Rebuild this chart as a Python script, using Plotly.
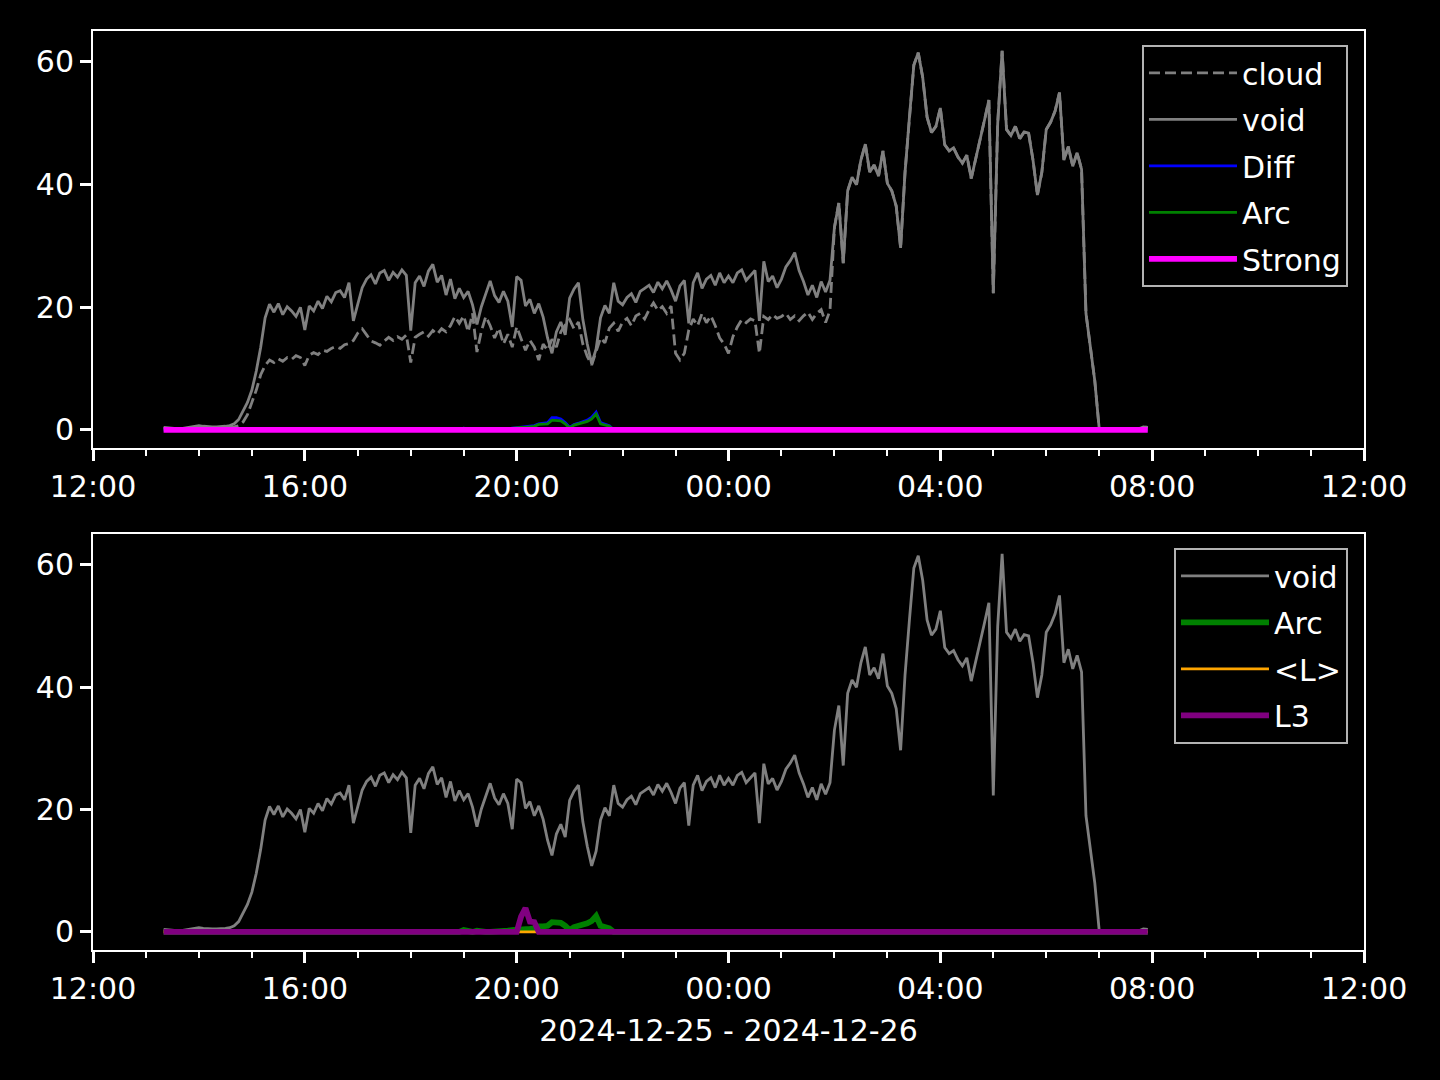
import pandas as pd
import plotly.graph_objects as go

# ---- data (5-minute samples starting 2024-12-25 13:20) ----
start_time = "2024-12-25 13:20"
step = "5min"

void = (
    [0.4, 0.3, 0.3, 0.2, 0.2, 0.3, 0.4, 0.5] +                                   # 13:20-13:55
    [0.7, 0.6, 0.5, 0.5, 0.5, 0.5, 0.6, 0.7, 1.0, 1.7, 3.0, 4.5] +               # 14
    [6.5, 9.6, 13.5, 18.3, 20.5, 19.2, 20.6, 18.8, 20.1, 19.4, 18.5, 20.0] +     # 15
    [16.3, 20.2, 19.4, 21.0, 19.8, 21.8, 20.9, 22.4, 22.7, 21.6, 24.0, 17.8] +   # 16
    [20.5, 23.2, 24.6, 25.3, 23.8, 25.6, 26.0, 24.4, 25.7, 24.9, 26.1, 25.2] +   # 17
    [16.2, 24.0, 25.1, 23.4, 25.9, 27.0, 24.1, 25.2, 22.0, 24.6, 21.4, 23.1] +   # 18
    [21.6, 22.6, 20.4, 17.2, 20.1, 22.2, 24.3, 21.9, 20.8, 22.6, 21.0, 16.8] +   # 19
    [25.0, 24.4, 20.2, 21.3, 19.0, 20.6, 18.4, 15.0, 12.5, 16.0, 17.6, 15.5] +   # 20
    [21.5, 23.0, 24.0, 18.0, 14.0, 10.8, 13.2, 18.3, 20.3, 19.0, 24.0, 21.0] +   # 21
    [20.4, 21.6, 22.2, 20.8, 22.6, 23.1, 23.6, 22.4, 24.1, 23.0, 24.3, 22.8] +   # 22
    [21.0, 23.5, 24.4, 17.4, 24.0, 25.6, 23.1, 24.6, 25.2, 23.6, 25.6, 24.0] +   # 23
    [25.1, 24.0, 25.6, 26.1, 24.4, 25.2, 26.0, 17.8, 27.5, 24.2, 25.1, 23.2] +   # 00
    [24.6, 26.6, 27.6, 28.9, 26.0, 24.2, 22.0, 23.6, 21.6, 24.2, 22.5, 24.4] +   # 01
    [33.0, 37.0, 27.2, 39.0, 41.2, 40.0, 44.0, 46.6, 42.0, 43.2, 41.4, 45.5] +   # 02
    [40.2, 39.0, 36.5, 29.7, 42.0, 51.0, 59.5, 61.5, 57.5, 51.0, 48.5, 49.5] +   # 03
    [52.5, 46.5, 45.5, 46.0, 44.5, 43.5, 44.8, 41.0, 44.0, 47.5, 50.5, 53.8] +   # 04
    [22.3, 50.0, 61.8, 49.0, 48.0, 49.5, 47.5, 48.6, 48.4, 44.0, 38.3, 42.0] +   # 05
    [49.0, 50.2, 52.0, 55.0, 44.0, 46.2, 43.0, 45.2, 42.5, 19.0, 13.5, 8.0] +    # 06
    [0.2, 0.1, 0.1, 0.1, 0.1, 0.1, 0.1, 0.1, 0.2, 0.2, 0.5, 0.4]                 # 07
)

cloud = (
    [0.2, 0.2, 0.1, 0.1, 0.1, 0.2, 0.2, 0.3] +
    [0.4, 0.4, 0.3, 0.3, 0.3, 0.3, 0.3, 0.4, 0.5, 0.7, 1.3, 2.5] +
    [4.5, 6.5, 9.0, 10.5, 11.4, 11.0, 11.6, 11.2, 11.8, 11.5, 12.1, 11.8] +
    [10.5, 12.2, 12.6, 12.3, 13.0, 12.8, 13.3, 13.6, 13.3, 13.9, 14.1, 14.6] +
    [15.8, 16.5, 15.5, 14.5, 14.2, 13.8, 14.5, 15.1, 14.6, 15.2, 14.8, 15.5] +
    [11.0, 15.1, 15.6, 16.0, 15.3, 16.2, 15.6, 16.5, 16.0, 17.0, 18.5, 17.4] +
    [18.6, 16.0, 19.0, 12.7, 16.1, 18.5, 17.0, 15.0, 16.6, 14.0, 15.6, 13.5] +
    [16.8, 15.0, 13.0, 14.6, 13.5, 11.4, 14.0, 13.0, 14.8, 13.5, 16.0, 17.1] +
    [18.0, 16.5, 17.6, 14.0, 12.0, 10.6, 13.0, 15.0, 14.2, 16.6, 17.4, 16.1] +
    [17.6, 18.2, 17.0, 18.6, 19.0, 18.1, 19.6, 20.7, 19.5, 20.1, 19.0, 20.2] +
    [12.5, 11.4, 12.5, 16.3, 18.1, 17.0, 19.0, 17.5, 18.6, 17.0, 15.0, 14.0] +
    [12.5, 15.2, 16.8, 18.0, 17.5, 18.1, 17.8, 12.5, 18.5, 18.0, 18.8, 18.2] +
    [18.5, 19.0, 18.0, 18.6, 17.8, 18.6, 19.2, 18.0, 19.0, 19.6, 17.5, 19.5] +
    [33.0, 37.0, 27.2, 39.0, 41.2, 40.0, 44.0, 46.6, 42.0, 43.2, 41.4, 45.5] +
    [40.2, 39.0, 36.5, 29.7, 42.0, 51.0, 59.5, 61.5, 57.5, 51.0, 48.5, 49.5] +
    [52.5, 46.5, 45.5, 46.0, 44.5, 43.5, 44.8, 41.0, 44.0, 47.5, 50.5, 53.8] +
    [22.3, 50.0, 61.8, 49.0, 48.0, 49.5, 47.5, 48.6, 48.4, 44.0, 38.3, 42.0] +
    [49.0, 50.2, 52.0, 55.0, 44.0, 46.2, 43.0, 45.2, 42.5, 19.0, 13.5, 8.0] +
    [0.2, 0.1, 0.1, 0.1, 0.1, 0.1, 0.1, 0.1, 0.2, 0.2, 0.5, 0.4]
)

Z8 = [0.0] * 8
Z12 = [0.0] * 12

arc = (
    Z8 + Z12 * 5 +
    [0.3, 0.2, 0.0, 0.2, 0.0, 0.0, 0.0, 0.0, 0.0, 0.0, 0.2, 0.3] +   # 19
    [0.3, 0.4, 0.4, 0.5, 0.6, 0.9, 0.9, 1.0, 1.6, 1.6, 1.5, 1.0] +   # 20
    [0.3, 0.8, 1.0, 1.1, 1.4, 1.8, 2.6, 1.0, 0.8, 0.6, 0.0, 0.0] +   # 21
    Z12 * 10
)

diff = (
    Z8 + Z12 * 5 +
    [0.3, 0.2, 0.0, 0.2, 0.0, 0.0, 0.0, 0.0, 0.0, 0.0, 0.2, 0.3] +
    [0.3, 0.5, 0.5, 0.6, 0.7, 1.0, 1.1, 1.2, 2.0, 2.0, 1.8, 1.2] +
    [0.4, 0.9, 1.1, 1.3, 1.6, 2.1, 2.9, 1.2, 0.9, 0.7, 0.0, 0.0] +
    Z12 * 10
)

strong = Z8 + Z12 * 18
mean_l = Z8 + Z12 * 18

l3 = (
    Z8 + Z12 * 6 +
    [0.0, 2.5, 3.9, 1.7, 1.6, 0.0, 0.0, 0.0, 0.0, 0.0, 0.0, 0.0] +   # 20
    Z12 * 11
)

x_range = ["2024-12-25 12:00", "2024-12-26 12:00"]
y_ticks = [0, 20, 40, 60]
x_title = "2024-12-25 - 2024-12-26"

times = pd.date_range(start_time, periods=len(void), freq=step)

FONT = "DejaVu Sans"
FS = 30
GRAY = "#808080"

fig = go.Figure()

def add(y, name, color, width, xa, ya, legend, dash="solid"):
    fig.add_trace(go.Scatter(
        x=times, y=y, mode="lines", name=name,
        line=dict(color=color, width=width, dash=dash),
        xaxis=xa, yaxis=ya, legend=legend, legendgroup=legend + name,
    ))

# top panel
add(cloud, "cloud", GRAY, 2.8, "x", "y", "legend", dash="11px,5px")
add(void, "void", GRAY, 2.8, "x", "y", "legend")
add(diff, "Diff", "#0000ff", 2.8, "x", "y", "legend")
add(arc, "Arc", "#008000", 2.8, "x", "y", "legend")
add(strong, "Strong", "#ff00ff", 5.8, "x", "y", "legend")

# bottom panel
add(void, "void", GRAY, 2.8, "x2", "y2", "legend2")
add(arc, "Arc", "#008000", 5.8, "x2", "y2", "legend2")
add(mean_l, "<L>", "#ffa500", 2.8, "x2", "y2", "legend2")
add(l3, "L3", "#800080", 5.8, "x2", "y2", "legend2")

xcommon = dict(
    type="date", range=x_range, tick0=x_range[0], dtick=4 * 3600000,
    tickformat="%H:%M", ticks="outside", ticklen=11, tickwidth=2.5,
    tickcolor="white", showgrid=False, zeroline=False,
    showline=True, mirror=True, linecolor="white", linewidth=2,
    tickfont=dict(family=FONT, size=FS, color="white"),
    minor=dict(dtick=3600000, ticks="outside", ticklen=6, tickwidth=2,
               tickcolor="white", showgrid=False),
)
ycommon = dict(
    range=[-2.95, 65.05], tickvals=y_ticks, ticks="outside", ticklen=11,
    tickwidth=2.5, tickcolor="white", showgrid=False, zeroline=False,
    showline=True, mirror=True, linecolor="white", linewidth=2,
    tickfont=dict(family=FONT, size=FS, color="white"),
)

legcommon = dict(
    bgcolor="black", bordercolor="#b3b3b3", borderwidth=2,
    font=dict(family=FONT, size=FS, color="white"),
    xanchor="right", yanchor="top", tracegroupgap=4.5,
    itemwidth=88,
)

fig.update_layout(
    width=1440, height=1080,
    paper_bgcolor="black", plot_bgcolor="black",
    margin=dict(l=93, r=76, t=31, b=130),
    font=dict(family=FONT, size=FS, color="white"),
    xaxis=dict(domain=[0, 1], anchor="y", **xcommon),
    yaxis=dict(domain=[0.5462, 1], anchor="x", **ycommon),
    xaxis2=dict(domain=[0, 1], anchor="y2",
                title=dict(text=x_title, font=dict(family=FONT, size=FS, color="white"),
                           standoff=15),
                **xcommon),
    yaxis2=dict(domain=[0, 0.4527], anchor="x2", **ycommon),
    legend=dict(x=0.9874, y=0.9848, **legcommon),
    legend2=dict(x=0.9874, y=0.4375, **legcommon),
    showlegend=True,
)

fig.write_html(
    "out.html",
    config={"displayModeBar": False},
    post_script="document.body.style.margin='0';document.body.style.background='black';",
)
